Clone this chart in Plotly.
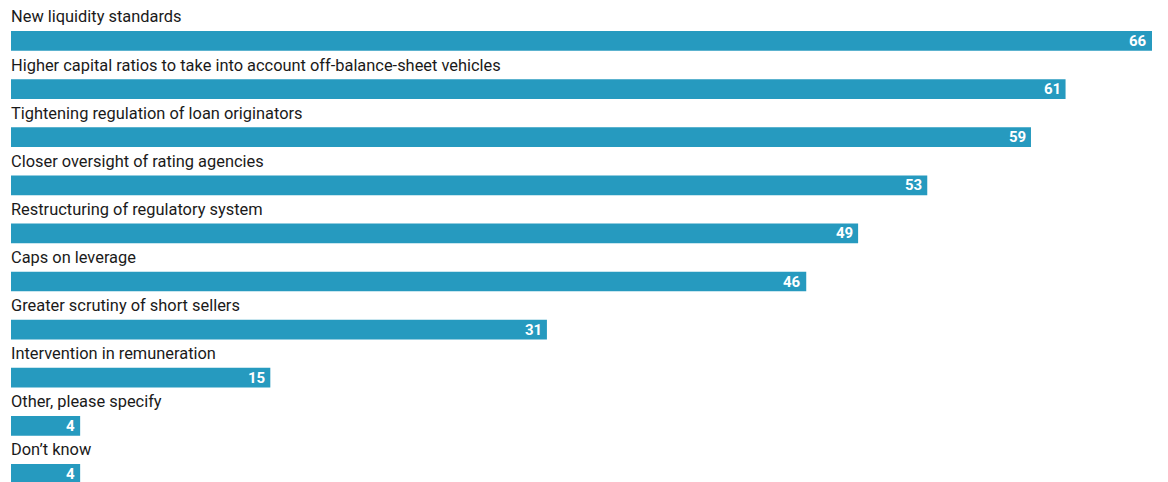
import plotly.graph_objects as go

# Survey responses: share of respondents (%) favouring each measure
measures = [
    "New liquidity standards",
    "Higher capital ratios to take into account off-balance-sheet vehicles",
    "Tightening regulation of loan originators",
    "Closer oversight of rating agencies",
    "Restructuring of regulatory system",
    "Caps on leverage",
    "Greater scrutiny of short sellers",
    "Intervention in remuneration",
    "Other, please specify",
    "Don\u2019t know",
]
shares = [66, 61, 59, 53, 49, 46, 31, 15, 4, 4]

BAR_COLOR = "#269abf"
positions = list(range(len(measures)))

fig = go.Figure(
    go.Bar(
        x=shares,
        y=positions,
        orientation="h",
        width=0.41,
        marker=dict(color=BAR_COLOR, line=dict(width=0)),
        hoverinfo="skip",
    )
)

for pos, name, value in zip(positions, measures, shares):
    # Category name above the bar
    fig.add_annotation(
        x=0, y=pos, xref="x", yref="y",
        text=name, showarrow=False,
        xanchor="left", yanchor="middle",
        xshift=-2, yshift=24,
        font=dict(family="Roboto", size=16.4, color="#1a1a1a"),
    )
    # Value label inside the bar end
    fig.add_annotation(
        x=value, y=pos, xref="x", yref="y",
        text=f"<b>{value}</b>", showarrow=False,
        xanchor="right", yanchor="middle",
        xshift=-3, yshift=0,
        font=dict(family="Roboto", size=15, color="white"),
    )

fig.update_layout(
    width=1168,
    height=482,
    margin=dict(l=11, r=16, t=0, b=0),
    paper_bgcolor="white",
    plot_bgcolor="white",
    showlegend=False,
    xaxis=dict(range=[0, 66], visible=False, fixedrange=True),
    yaxis=dict(range=[9.168, -0.852], visible=False, fixedrange=True),
)

fig.write_html("out.html")
